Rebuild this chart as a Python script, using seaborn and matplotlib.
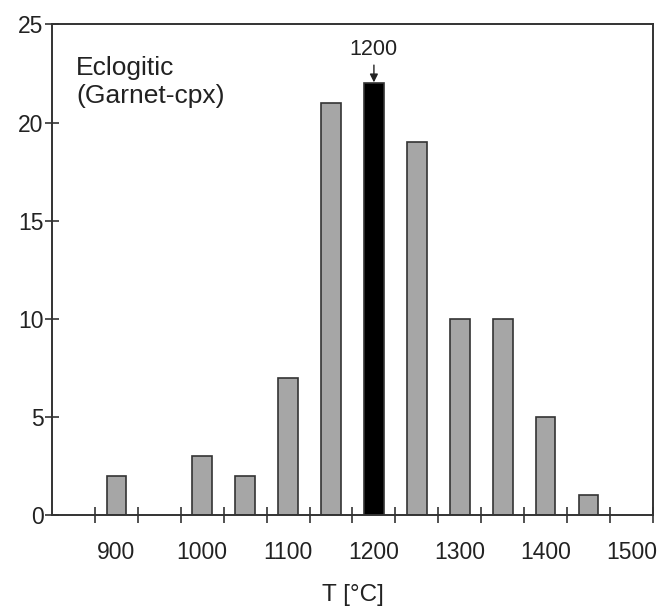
import seaborn as sns
import matplotlib.pyplot as plt
import pandas as pd

# ------- data ------- #
temps = [900, 1000, 1050, 1100, 1150, 1200, 1250, 1300, 1350, 1400, 1450]
counts = [2, 3, 2, 7, 21, 22, 19, 10, 10, 5, 1]
peak = 1200

df = pd.DataFrame({'T': temps, 'N': counts})
df['group'] = ['peak' if t == peak else 'other' for t in temps]

sns.set_style('white')
plt.rcParams['font.family'] = ['Liberation Sans', 'DejaVu Sans']

fig = plt.figure(figsize=(6.64, 6.11), dpi=100)
ax = fig.add_axes([0.0783, 0.157, 0.905, 0.803])

sns.barplot(data=df, x='T', y='N', hue='group', palette={'other': '#a6a6a6', 'peak': 'black'},
            native_scale=True, dodge=False, width=0.46, legend=False,
            edgecolor='#333333', linewidth=1.2, ax=ax)

ax.set_xlim(825, 1525)
ax.set_ylim(0, 25)

# tick marks sit between the bars, the labels sit under them
ax.set_xticks(range(875, 1526, 50))
ax.set_xticklabels([])
ax.set_xticks(range(900, 1501, 100), minor=True)
ax.set_xticklabels([str(t) for t in range(900, 1501, 100)], minor=True, fontsize=16.5, color='#222222')
ax.tick_params(axis='x', which='major', bottom=True, direction='inout', length=12, width=1.1, color='#222222')
ax.tick_params(axis='x', which='minor', bottom=True, length=0, pad=19)
ax.set_yticks(range(0, 26, 5))
ax.set_yticklabels([str(v) for v in range(0, 26, 5)], fontsize=16.5, color='#222222')
ax.tick_params(axis='y', left=True, direction='inout', length=10, width=1.1, color='#222222', pad=1)

for s in ax.spines.values():
    s.set_linewidth(1.4)
    s.set_color('#333333')
    s.set_visible(True)

ax.set_xlabel('T [°C]', fontsize=17.5, labelpad=14, color='#222222')
ax.set_ylabel('')

ax.text(853, 23.4, 'Eclogitic\n(Garnet-cpx)', fontsize=19, va='top', ha='left',
        linespacing=1.2, color='#222222')
ax.annotate('1200', xy=(peak, 22.05), xytext=(peak, 23.7), ha='center', va='center',
            fontsize=15.5, color='#222222',
            arrowprops=dict(arrowstyle='-|>', color='#222222', lw=1.0, mutation_scale=12,
                            shrinkA=1, shrinkB=0))

plt.savefig('out.png', dpi=100)
